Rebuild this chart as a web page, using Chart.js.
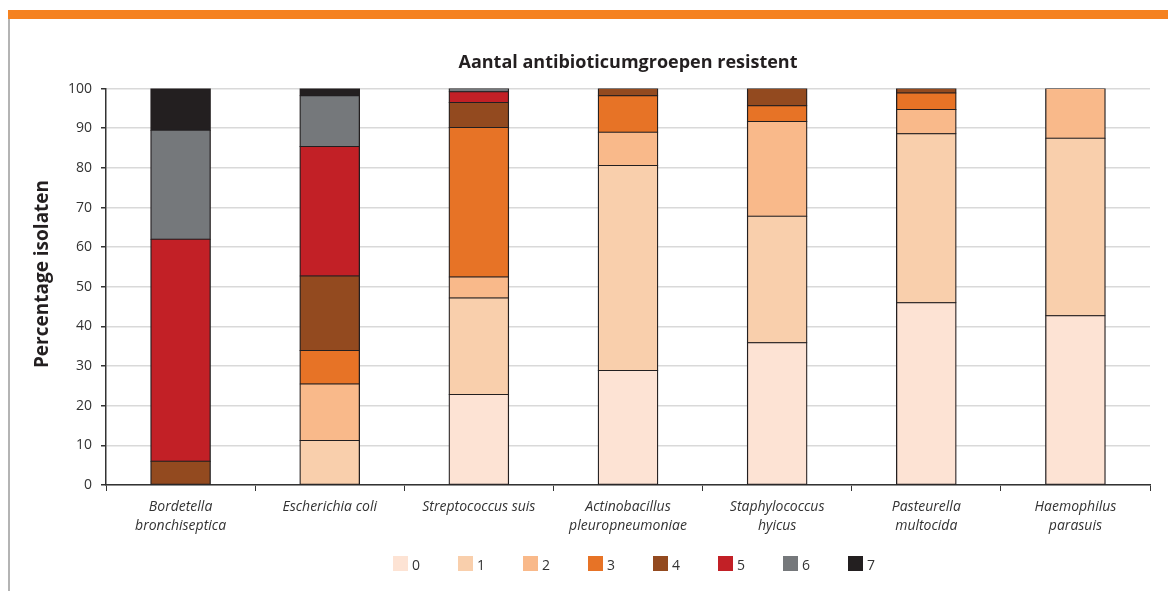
<!DOCTYPE html>
<html>
<head>
<meta charset="utf-8">
<script src="https://cdn.jsdelivr.net/npm/chart.js@4"></script>
<style>
    body { margin: 0; background: #fff; }
    #frame { position: relative; width: 1168px; height: 591px; overflow: hidden; }
    #topBand { position: absolute; left: 8px; right: 0; top: 10px; height: 9px; background: #f58220; }
    #sideLine { position: absolute; left: 8px; top: 19px; bottom: 0; width: 2px; background: #b4b4b4; }
    #chart { position: absolute; left: 0; top: 0; }
</style>
</head>
<body>
<div id="frame">
    <div id="topBand"></div>
    <div id="sideLine"></div>
    <canvas id="chart" width="1168" height="591"></canvas>
</div>
<script>
// Bacterial species on the x axis
const categories = [
    ['Bordetella', 'bronchiseptica'],
    ['Escherichia coli'],
    ['Streptococcus suis'],
    ['Actinobacillus', 'pleuropneumoniae'],
    ['Staphylococcus', 'hyicus'],
    ['Pasteurella', 'multocida'],
    ['Haemophilus', 'parasuis']
];

// Percentage of isolates resistant to N antibiotic groups
const groups0 = [0, 0, 22.8, 28.9, 35.9, 46.0, 42.7];
const groups1 = [0, 11.2, 24.4, 51.7, 31.9, 42.6, 44.8];
const groups2 = [0, 14.3, 5.3, 8.4, 23.9, 6.1, 12.5];
const groups3 = [0, 8.4, 37.7, 9.2, 4.0, 4.2, 0];
const groups4 = [6.0, 18.8, 6.3, 1.8, 4.3, 1.1, 0];
const groups5 = [56.0, 32.7, 2.7, 0, 0, 0, 0];
const groups6 = [27.5, 12.8, 0.8, 0, 0, 0, 0];
const groups7 = [10.5, 1.8, 0, 0, 0, 0, 0];

const seriesLabels = ['0', '1', '2', '3', '4', '5', '6', '7'];
const yTicks = [0, 10, 20, 30, 40, 50, 60, 70, 80, 90, 100];
const yTitle = 'Percentage isolaten';

const fills = ['#fde3d4', '#f9cfac', '#f9b98a', '#e77326', '#934a1f', '#c22026', '#75787b', '#231f20'];
const series = [groups0, groups1, groups2, groups3, groups4, groups5, groups6, groups7];

const fontFamily = '"Open Sans", "Noto Sans", sans-serif';
const textColor = '#333333';

// inflate a little so stacked segments meet without a light seam
const datasets = series.map((values, i) => ({
    label: seriesLabels[i],
    data: values,
    backgroundColor: fills[i],
    borderColor: '#231f20',
    borderWidth: { top: 1, bottom: 1, left: 1.3, right: 1.3 },
    borderSkipped: false,
    inflateAmount: 0.5,
    barPercentage: 0.4,
    categoryPercentage: 1
}));

// Rotated y title plus the legend row of square swatches under the axis
const sideText = {
    id: 'sideText',
    afterDraw(chart) {
        const ctx = chart.ctx;
        ctx.save();

        ctx.translate(43, 274);
        ctx.rotate(-Math.PI / 2);
        ctx.font = 'bold 19px ' + fontFamily;
        ctx.fillStyle = '#231f20';
        ctx.textAlign = 'center';
        ctx.textBaseline = 'middle';
        ctx.fillText(yTitle, 0, 0);
        ctx.setTransform(1, 0, 0, 1, 0, 0);

        const step = 65;
        const box = 15;
        let x = 393;
        const y = 556;
        ctx.font = '14px ' + fontFamily;
        ctx.textAlign = 'left';
        chart.data.datasets.forEach((ds) => {
            ctx.fillStyle = ds.backgroundColor;
            ctx.fillRect(x, y, box, box);
            ctx.fillStyle = textColor;
            ctx.fillText(ds.label, x + 19, y + 10);
            x += step;
        });
        ctx.restore();
    }
};

new Chart(document.getElementById('chart'), {
    type: 'bar',
    data: {
        labels: categories,
        datasets: datasets
    },
    plugins: [sideText],
    options: {
        responsive: false,
        animation: false,
        layout: {
            padding: { left: 10, right: 18, top: 0, bottom: 46 }
        },
        plugins: {
            title: {
                display: true,
                fullSize: false,
                text: 'Aantal antibioticumgroepen resistent',
                color: '#231f20',
                font: { family: fontFamily, size: 18, weight: 'bold' },
                padding: { top: 52, bottom: 15 }
            },
            legend: { display: false },
            tooltip: { enabled: false }
        },
        scales: {
            x: {
                stacked: true,
                afterFit: (scale) => { scale.height = 60; },
                grid: {
                    offset: true,
                    drawOnChartArea: false,
                    tickLength: 6,
                    tickColor: '#333333'
                },
                border: { color: '#333333', width: 1.5 },
                ticks: {
                    color: textColor,
                    padding: 7,
                    maxRotation: 0,
                    font: { family: fontFamily, size: 14, style: 'italic', lineHeight: 1.35 }
                }
            },
            y: {
                stacked: true,
                min: 0,
                max: 100,
                afterFit: (scale) => { scale.width = 96; },
                afterBuildTicks: (scale) => { scale.ticks = yTicks.map(v => ({ value: v })); },
                grid: {
                    color: '#d9d9d9',
                    lineWidth: 1.5,
                    tickLength: 5,
                    tickColor: '#333333'
                },
                border: { color: '#333333', width: 1.5 },
                ticks: {
                    color: textColor,
                    padding: 9,
                    font: { family: fontFamily, size: 14 }
                }
            }
        }
    }
});
</script>
</body>
</html>
